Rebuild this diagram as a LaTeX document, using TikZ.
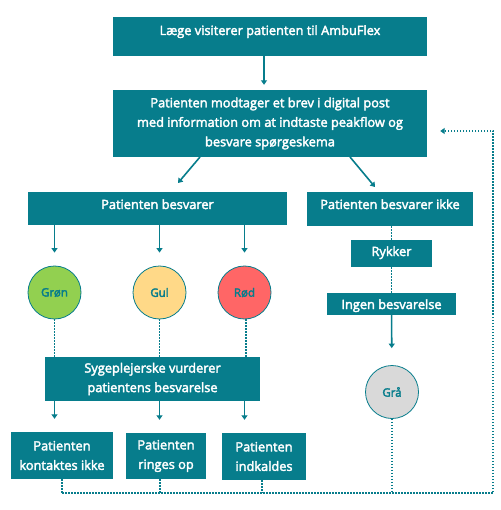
\documentclass[tikz,border=0pt]{standalone}
\usepackage{fontspec}
\setmainfont{Open Sans}
\usetikzlibrary{arrows.meta}
\definecolor{tealbox}{RGB}{7,125,140}
\definecolor{cgreen}{RGB}{146,208,80}
\definecolor{cyellow}{RGB}{255,217,136}
\definecolor{cred}{RGB}{255,102,102}
\definecolor{cgray}{RGB}{217,217,217}
\newcommand{\heavytext}{\special{pdf:literal direct 2 Tr 0.35 w}}
\begin{document}
\begin{tikzpicture}[x=1pt,y=-1pt,
  box/.style={fill=tealbox, text=white, inner sep=0pt, align=center,
    font=\fontsize{12.8}{19.5}\selectfont\heavytext},
  dot/.style={circle, draw=tealbox, line width=0.8pt, minimum size=53pt,
    inner sep=0pt, text=tealbox, font=\fontsize{11.5}{14}\selectfont\heavytext},
  arr/.style={draw=tealbox, line width=1.6pt, -{Triangle[length=4.5pt,width=6pt]}},
  dots/.style={draw=tealbox, line width=1.5pt, dash pattern=on 1.5pt off 1.5pt}]
\useasboundingbox (0,0) rectangle (500,510);
% boxes
\node[box, minimum width=314, minimum height=39, text height=18pt, text depth=21pt] (b1) at (270,36.5) {Læge visiterer patienten til AmbuFlex};
\node[box, minimum width=314, minimum height=67] (b2) at (270,123.5) {Patienten modtager et brev i digital post\\med information om at indtaste peakflow og\\besvare spørgeskema};
\node[box, minimum width=259, minimum height=33, text height=17pt, text depth=16pt] (besv) at (157.5,208.5) {Patienten besvarer};
\node[box, minimum width=166, minimum height=34, text height=17pt, text depth=17pt] (ikke) at (390,209) {Patienten besvarer ikke};
\node[box, minimum width=81, minimum height=27, text height=16pt, text depth=11pt] (ryk) at (391.5,253.5) {Rykker};
\node[box, minimum width=129, minimum height=22, text height=16pt, text depth=6pt] (ingen) at (391.5,304) {Ingen besvarelse};
\node[box, minimum width=215, minimum height=44] (syg) at (152.5,379) {Sygeplejerske vurderer\\patientens besvarelse};
\node[box, minimum width=102, minimum height=47] (p1) at (62,455.5) {Patienten\\kontaktes ikke};
\node[box, minimum width=80, minimum height=46] (p2) at (166,456) {Patienten\\ringes op};
\node[box, minimum width=84, minimum height=47] (p3) at (264,456.5) {Patienten\\indkaldes};
% circles
\node[dot, fill=cgreen] (gron) at (54.5,292.5) {Grøn};
\node[dot, fill=cyellow] (gul) at (159.5,292.5) {Gul};
\node[dot, fill=cred] (rod) at (244.5,292.5) {Rød};
\node[dot, fill=cgray] (gra) at (392,392) {Grå};
% feedback coordinates
\coordinate (fb1) at (62,493);
\coordinate (fb2) at (160,493);
\coordinate (fb3) at (262,493);
\coordinate (fb4) at (392,493);
\coordinate (fbr) at (493,493);
\coordinate (fbt) at (493,131);
% arrows
\draw[arr, shorten >=5pt] ([xshift=-6pt]b1.south) -- ([xshift=-6pt]b2.north);
\draw[arr] (200,157) -- (178,183);
\draw[arr] (350,157) -- (375,187);
\draw[arr, shorten >=13pt] (besv.south -| gron) -- (gron);
\draw[arr, shorten >=13pt] (besv.south -| gul) -- (gul);
\draw[arr, shorten >=13pt] (besv.south -| rod) -- (rod);
\draw[dots] (ikke.south -| ryk) -- (ryk);
\draw[dots] (ryk) -- (ingen);
\draw[arr, shorten >=17pt] (ingen) -- (gra);
\draw[dots] (gron) -- (gron |- syg.north);
\draw[dots] (gul) -- (gul |- syg.north);
\draw[dots] ([xshift=1.5pt]rod.south) -- ([xshift=1.5pt]rod.south |- syg.north);
\draw[arr, shorten >=13pt] (syg.south -| gron) -- (gron |- p1.north);
\draw[arr, shorten >=13pt] (syg.south -| gul) -- (gul |- p2.north);
\draw[arr, shorten >=13pt] (syg.south -| rod) -- (rod |- p3.north);
% feedback loop
\draw[dots] (p1.south) -- (fb1);
\draw[dots] (fb2 |- p2.south) -- (fb2);
\draw[dots] (fb3 |- p3.south) -- (fb3);
\draw[dots] (gra) -- (fb4);
\draw[dots, -{Triangle[length=4.5pt,width=6pt]}, shorten >=13pt] (fb1) -- (fbr) -- (fbt) -- (b2.east |- fbt);
\end{tikzpicture}
\end{document}
